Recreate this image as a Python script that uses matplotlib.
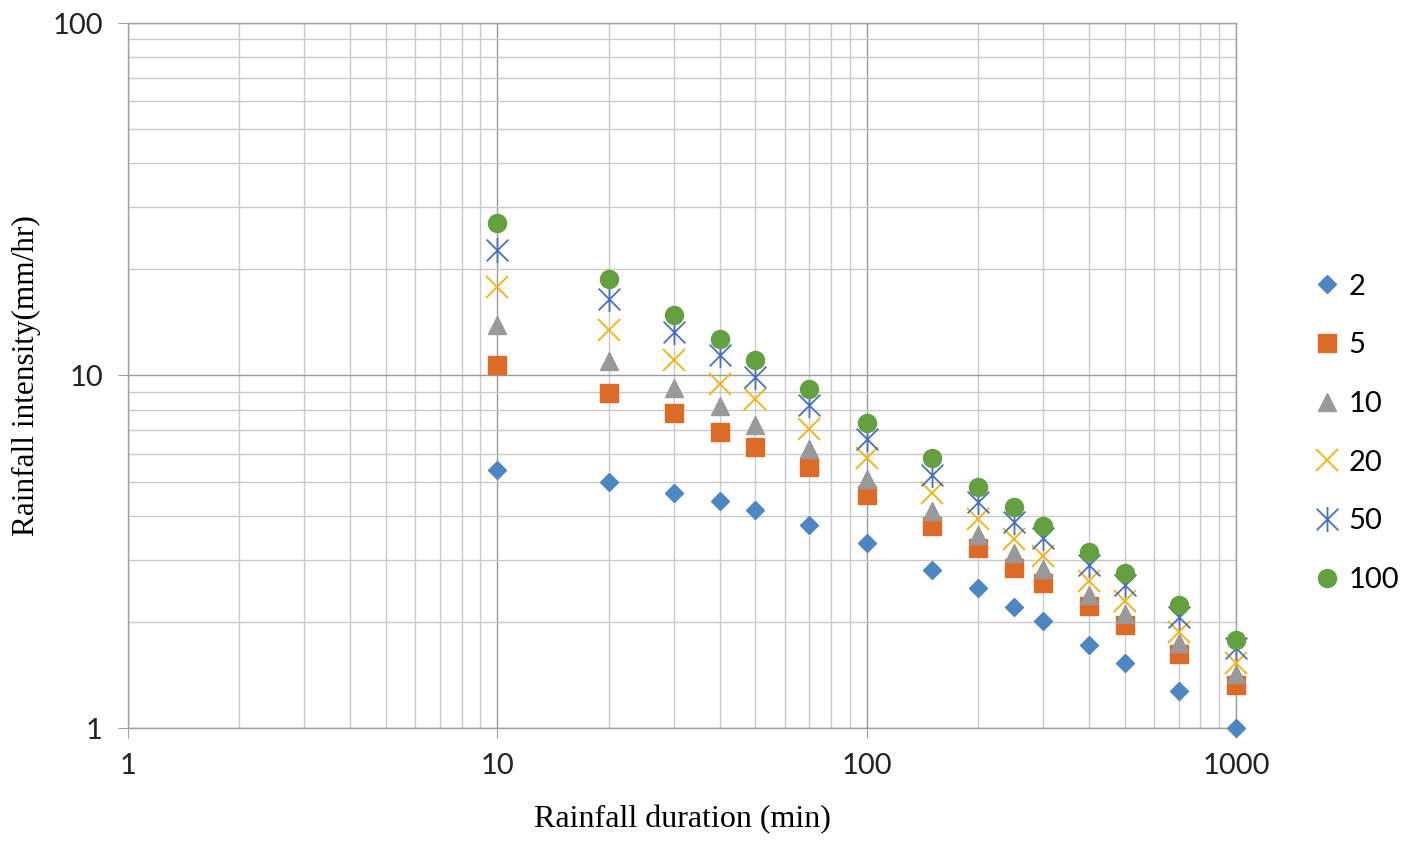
import numpy as np
import matplotlib.pyplot as plt
from matplotlib.path import Path

# rainfall duration (min)
duration = [10, 20, 30, 40, 50, 70, 100, 150, 200, 250, 300, 400, 500, 700, 1000]

# rainfall intensity (mm/hr) for each return period
rp2 = [5.39, 4.99, 4.64, 4.40, 4.15, 3.77, 3.35, 2.81, 2.49, 2.20, 2.01, 1.72, 1.53, 1.27, 1.00]
rp5 = [10.7, 8.92, 7.83, 6.92, 6.27, 5.50, 4.58, 3.74, 3.24, 2.84, 2.58, 2.22, 1.96, 1.62, 1.32]
rp10 = [13.9, 11.0, 9.22, 8.19, 7.24, 6.19, 5.09, 4.13, 3.53, 3.14, 2.83, 2.38, 2.11, 1.74, 1.42]
rp20 = [17.8, 13.5, 11.1, 9.46, 8.58, 7.05, 5.83, 4.64, 3.92, 3.44, 3.08, 2.61, 2.29, 1.87, 1.53]
rp50 = [22.7, 16.5, 13.3, 11.4, 9.91, 8.25, 6.61, 5.22, 4.38, 3.84, 3.46, 2.90, 2.54, 2.06, 1.69]
rp100 = [27.1, 18.8, 14.8, 12.7, 11.1, 9.16, 7.33, 5.84, 4.83, 4.24, 3.74, 3.16, 2.75, 2.23, 1.78]

labels = ['2', '5', '10', '20', '50', '100']

# excel style asterisk: x plus vertical bar
star = Path([(-1, -1), (1, 1), (-1, 1), (1, -1), (0, 1.15), (0, -1.15)],
            [Path.MOVETO, Path.LINETO, Path.MOVETO, Path.LINETO, Path.MOVETO, Path.LINETO])

fig = plt.figure(figsize=(14.13, 8.46), dpi=100)
ax = fig.add_axes([128/1413, 1 - 728/846, (1236-128)/1413, (728-23)/846])

kw = dict(ls='none', clip_on=False, zorder=3)
ax.plot(duration, rp2, marker='D', ms=9.5, color='#4E86C2', label=labels[0], **kw)
ax.plot(duration, rp5, marker='s', ms=12.5, color='#DD6B28', label=labels[1], **kw)
ax.plot(duration, rp10, marker='^', ms=13, color='#999999', label=labels[2], **kw)
ax.plot(duration, rp20, marker='x', ms=16, mew=1.4, color='#F2B51C', label=labels[3], **kw)
ax.plot(duration, rp50, marker=star, ms=18, mew=1.3, mfc='none', color='#4A6FC4', label=labels[4], **kw)
ax.plot(duration, rp100, marker='o', ms=13, color='#64A03F', label=labels[5], **kw)

ax.set_xscale('log')
ax.set_yscale('log')
ax.set_xlim(1, 1000)
ax.set_ylim(1, 100)
ax.set_xticks([1, 10, 100, 1000])
ax.set_xticklabels(['1', '10', '100', '1000'])
ax.set_yticks([1, 10, 100])
ax.set_yticklabels(['1', '10', '100'])

ax.grid(True, which='major', color='#9a9a9a', lw=1.0)
ax.grid(True, which='minor', color='#c9c9c9', lw=1.0)
ax.set_axisbelow(True)
for s in ax.spines.values():
    s.set_color('#a0a0a0')
    s.set_linewidth(1.0)

ax.tick_params(which='major', length=7, color='#a0a0a0', labelsize=21, pad=11)
ax.tick_params(which='minor', length=0)
for t in ax.get_xticklabels() + ax.get_yticklabels():
    t.set_family('Lato')
    t.set_color('#222222')

ax.set_xlabel('Rainfall duration (min)', family='Liberation Serif', fontsize=23, labelpad=19)
ax.set_ylabel('Rainfall intensity(mm/hr)', family='Liberation Serif', fontsize=22.5, labelpad=8)

leg = ax.legend(loc='center left', bbox_to_anchor=(1.045, 0.418), frameon=False,
                prop={'family': 'Lato', 'size': 21}, numpoints=1,
                handlelength=1.0, handletextpad=0.25, labelspacing=1.12)

fig.savefig('out.png', dpi=100)
